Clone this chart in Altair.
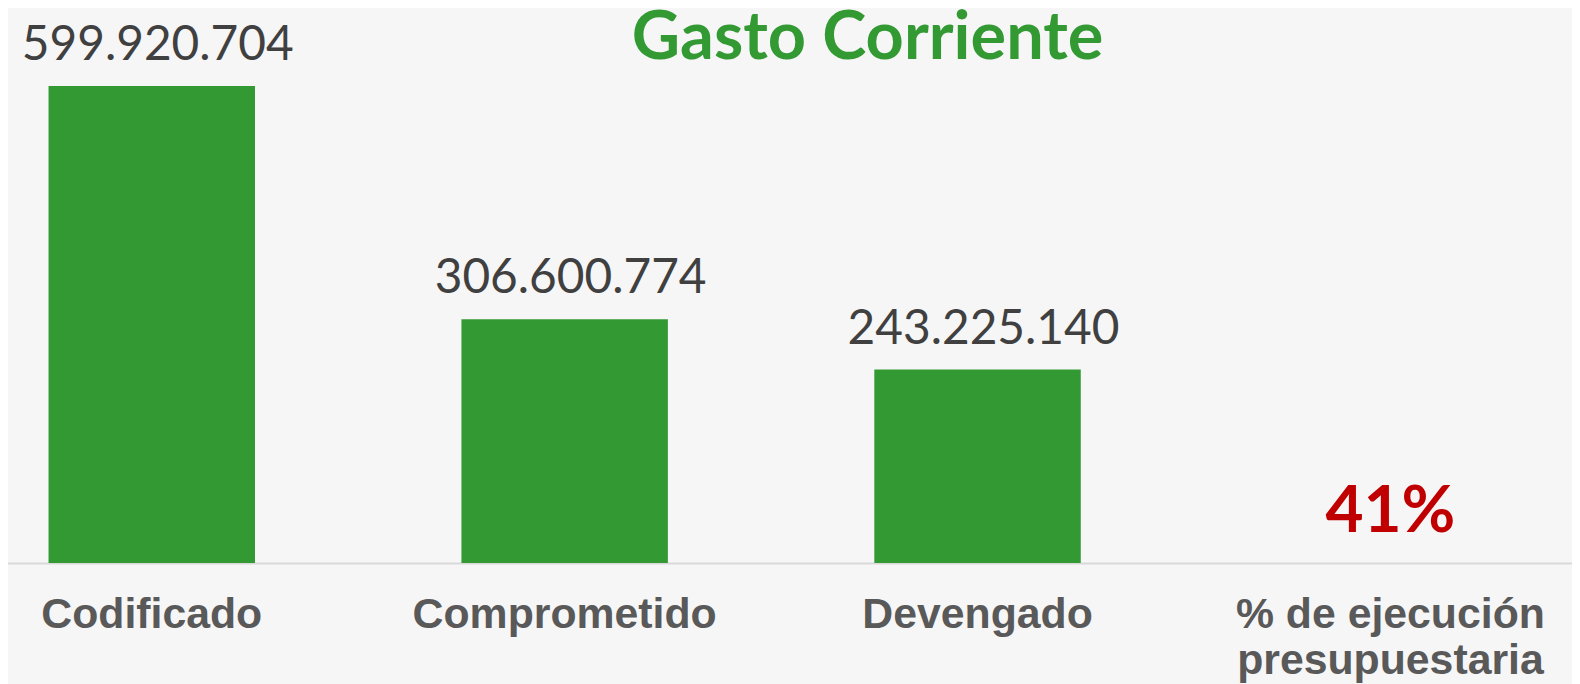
import altair as alt
import pandas as pd

CATEGORIES = ["Codificado", "Comprometido", "Devengado", "% de ejecución presupuestaria"]
VALUES = [599920704, 306600774, 243225140]
PCT_LABEL = "41%"
TITLE = "Gasto Corriente"

rows = []
for c, v in zip(CATEGORIES[:3], VALUES):
    rows.append({"cat": c, "value": v, "label": f"{v:,}".replace(",", ".")})
bars_df = pd.DataFrame(rows)
pct_df = pd.DataFrame([{"cat": CATEGORIES[3], "value": 0, "label": PCT_LABEL}])
title_df = pd.DataFrame([{"t": TITLE}])

x_enc = alt.X(
    "cat:N",
    sort=CATEGORIES,
    scale=alt.Scale(domain=CATEGORIES, range=[-63, 1597], paddingInner=0.5, paddingOuter=0.25),
    axis=alt.Axis(
        title=None,
        labelAngle=0,
        ticks=False,
        labelFont="Liberation Sans",
        labelFontWeight="bold",
        labelFontSize=43,
        labelColor="#595959",
        labelPadding=31,
        labelLineHeight=46,
        labelLimit=0,
        labelExpr="datum.value == '% de ejecución presupuestaria' ? ['% de ejecución', 'presupuestaria'] : datum.value",
        domainColor="#d9d9d9",
        domainWidth=2,
        grid=False,
    ),
)
y_scale = alt.Scale(domain=[0, 695800000], nice=False)

bars = alt.Chart(bars_df).mark_bar(color="#339933").encode(
    x=x_enc,
    y=alt.Y("value:Q", scale=y_scale, axis=None),
)
vals = alt.Chart(bars_df).mark_text(
    font="Lato", fontSize=48, color="#404040", baseline="alphabetic", dy=-26, dx=6
).encode(
    x=alt.X("cat:N", sort=CATEGORIES),
    y=alt.Y("value:Q"),
    text="label:N",
)
pct = alt.Chart(pct_df).mark_text(
    font="Lato", fontSize=66, fontWeight="bold", color="#c00000", baseline="alphabetic", dy=-31
).encode(
    x=alt.X("cat:N", sort=CATEGORIES),
    y=alt.Y("value:Q"),
    text="label:N",
)
title = alt.Chart(title_df).mark_text(
    font="Lato", fontSize=67, fontWeight="bold", color="#339933", baseline="alphabetic", align="center"
).encode(
    x=alt.value(864),
    y=alt.value(50),
    text="t:N",
)

chart = alt.layer(bars, vals, pct, title).properties(
    width=1572,
    height=556,
    autosize=alt.AutoSizeParams(type="none"),
    padding={"left": 0, "top": 0, "right": 0, "bottom": 120},
    background="#f6f6f7",
).configure_view(stroke=None)

chart.save("out.html", embed_options={"renderer": "svg", "actions": False})
